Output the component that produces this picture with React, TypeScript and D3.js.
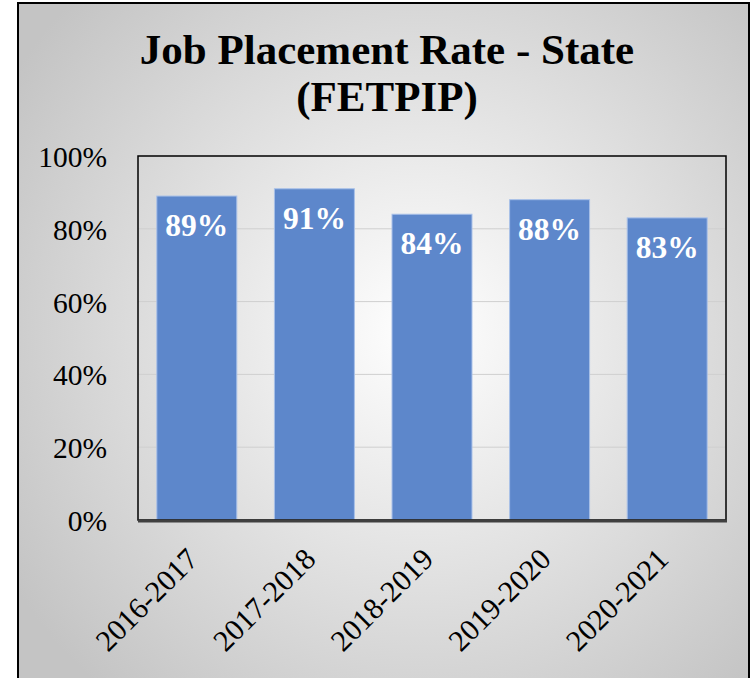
import React, { useEffect, useRef } from "react";
import * as d3 from "d3";

const years = ["2016-2017", "2017-2018", "2018-2019", "2019-2020", "2020-2021"];
const rates = [0.89, 0.91, 0.84, 0.88, 0.83];
const yTicks = [0, 0.2, 0.4, 0.6, 0.8, 1.0];
const titleLines = ["Job Placement Rate - State", "(FETPIP)"];

const App = () => {
  const svgRef = useRef<SVGSVGElement>(null);

  useEffect(() => {
    const width = 753;
    const height = 678;
    const plot = { left: 138, right: 726, top: 156, bottom: 520 };
    const font = "Liberation Serif, Times New Roman, serif";

    const svg = d3.select(svgRef.current);
    svg.selectAll("*").remove();
    svg.attr("width", width).attr("height", height);

    const defs = svg.append("defs");
    const grad = defs
      .append("radialGradient")
      .attr("id", "bg")
      .attr("gradientUnits", "userSpaceOnUse")
      .attr("cx", 420)
      .attr("cy", 330)
      .attr("r", 480);
    grad.append("stop").attr("offset", "0%").attr("stop-color", "#ffffff");
    grad.append("stop").attr("offset", "100%").attr("stop-color", "#c4c4c4");

    // background + outer frame
    svg.append("rect")
      .attr("x", 18)
      .attr("y", 3)
      .attr("width", 731)
      .attr("height", 690)
      .attr("fill", "url(#bg)")
      .attr("stroke", "#000")
      .attr("stroke-width", 2);

    const x = d3.scaleBand()
      .domain(years)
      .range([plot.left, plot.right])
      .paddingInner(0.32)
      .paddingOuter(0.16);

    const y = d3.scaleLinear().domain([0, 1]).range([plot.bottom, plot.top]);

    // gridlines
    svg.append("g")
      .selectAll("line")
      .data(yTicks.filter((t) => t > 0 && t < 1))
      .join("line")
      .attr("x1", plot.left)
      .attr("x2", plot.right)
      .attr("y1", (d) => y(d))
      .attr("y2", (d) => y(d))
      .attr("stroke", "#cfcfcf")
      .attr("stroke-width", 1);

    // bars
    svg.append("g")
      .selectAll("rect")
      .data(rates)
      .join("rect")
      .attr("x", (d, i) => x(years[i]))
      .attr("y", (d) => y(d))
      .attr("width", x.bandwidth())
      .attr("height", (d) => y(0) - y(d))
      .attr("fill", "#5d87cb")
      .attr("stroke", "#a8c0e8")
      .attr("stroke-width", 1);

    // value labels
    svg.append("g")
      .attr("font-family", font)
      .selectAll("text")
      .data(rates)
      .join("text")
      .attr("x", (d, i) => x(years[i]) + x.bandwidth() / 2)
      .attr("y", (d) => y(d) + 40)
      .attr("text-anchor", "middle")
      .attr("fill", "#fff")
      .attr("font-weight", "bold")
      .attr("font-size", 31.5)
      .text((d) => d3.format(".0%")(d));

    // plot border
    svg.append("rect")
      .attr("x", plot.left)
      .attr("y", plot.top)
      .attr("width", plot.right - plot.left)
      .attr("height", plot.bottom - plot.top)
      .attr("fill", "none")
      .attr("stroke", "#000")
      .attr("stroke-width", 1.5);

    // x axis line
    svg.append("line")
      .attr("x1", plot.left)
      .attr("x2", plot.right + 1)
      .attr("y1", plot.bottom + 1)
      .attr("y2", plot.bottom + 1)
      .attr("stroke", "#404040")
      .attr("stroke-width", 3);

    // y labels
    svg.append("g")
      .attr("font-family", font)
      .selectAll("text")
      .data(yTicks)
      .join("text")
      .attr("x", 107)
      .attr("y", (d) => y(d) + 11)
      .attr("text-anchor", "end")
      .attr("font-size", 29.5)
      .text((d) => d3.format(".0%")(d));

    // x labels
    svg.append("g")
      .attr("font-family", font)
      .selectAll("text")
      .data(years)
      .join("text")
      .attr("text-anchor", "end")
      .attr("transform", (d) => `translate(${x(d) + x.bandwidth() / 2 + 3},${plot.bottom + 41}) rotate(-45)`)
      .attr("font-size", 30)
      .text((d) => d);

    // title
    svg.append("g")
      .attr("font-family", font)
      .selectAll("text")
      .data(titleLines)
      .join("text")
      .attr("x", 387)
      .attr("y", (d, i) => 64 + i * 47)
      .attr("text-anchor", "middle")
      .attr("font-weight", "bold")
      .attr("font-size", 43)
      .text((d) => d);
  }, []);

  return (
    <div style={{ position: "absolute", left: 0, top: 0 }}>
      <svg ref={svgRef} style={{ display: "block" }}></svg>
    </div>
  );
};

export default App;
